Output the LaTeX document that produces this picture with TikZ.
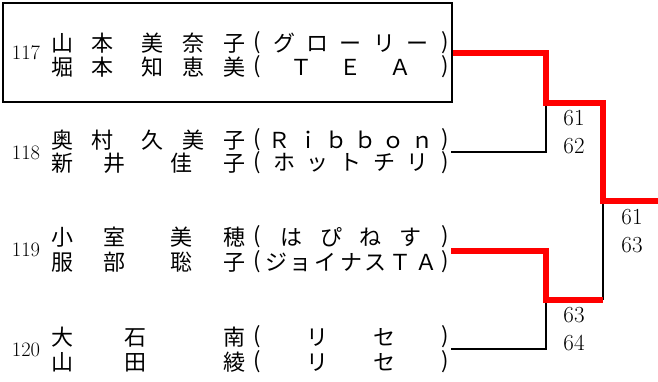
\documentclass[tikz,border=0pt]{standalone}
\usepackage{fontspec}
\usepackage{xcolor}
\usepackage{tikz}
\usetikzlibrary{calc,positioning}
\newfontfamily\jp{Noto Sans CJK JP}
\definecolor{winred}{HTML}{FF0000}
\tikzset{
  win/.style={line width=6pt,winred,line join=miter},
  lose/.style={line width=1.5pt,black},
  hibox/.style={draw,line width=2pt,minimum width=449pt,minimum height=99pt,inner sep=0pt},
  jtxt/.style={font=\jp\fontsize{22}{22}\selectfont,inner sep=0pt},
  num/.style={font=\fontsize{20.5}{20.5}\selectfont,inner sep=0pt},
  score/.style={font=\fontsize{23}{28}\selectfont,align=center,inner sep=0pt}
}
\newcommand{\jg}{\hfil}
\newcommand{\jG}{\hskip 0pt plus 1.5fil}
\newcommand{\namerow}[4]{%
  \node[jtxt,anchor=west] (#1-name) at (51,#2) {\hbox to 194pt{#3}};
  \node[jtxt] (#1-open) at (257,#2) {(};
  \node[jtxt] (#1-team) at (351,#2) {\hbox to 178pt{#4}};
  \node[jtxt] (#1-close) at (445,#2) {)};
}

\begin{document}
\begin{tikzpicture}[x=1pt,y=-1pt]
\useasboundingbox (0,0) rectangle (658,381);
% entries
\node[hibox] (box117) at (227.5,52.5) {};
\node[num] (n117) at (26,53) {117};
\node[num] (n118) at (26,153) {118};
\node[num] (n119) at (26,250) {119};
\node[num] (n120) at (26,350) {120};
\namerow{a1}{43}{山\jg 本\jG 美\jg 奈\jg 子}{\jg グ\jg ロ\jg ー\jg リ\jg ー\jg}
\namerow{a2}{67}{堀\jg 本\jG 知\jg 恵\jg 美}{\jg Ｔ\jg Ｅ\jg Ａ\jg}
\namerow{b1}{140}{奥\jg 村\jG 久\jg 美\jg 子}{\jg Ｒ\jg ｉ\jg ｂ\jg ｂ\jg ｏ\jg ｎ\jg}
\namerow{b2}{163}{新\jg 井\jG 佳\jg 子}{\jg ホ\jg ッ\jg ト\jg チ\jg リ\jg}
\namerow{c1}{237}{小\jg 室\jG 美\jg 穂}{\jg は\jg ぴ\jg ね\jg す\jg}
\namerow{c2}{262}{服\jg 部\jG 聡\jg 子}{\jg ジ\jg ョ\jg イ\jg ナ\jg ス\jg Ｔ\jg Ａ\jg}
\namerow{d1}{337}{大\jg 石\jG 南}{\jg リ\jg セ\jg}
\namerow{d2}{362}{山\jg 田\jG 綾}{\jg リ\jg セ\jg}
% bracket points
\coordinate (t118) at (451,152);
\coordinate (t119) at (451,251);
\coordinate (t120) at (451,349);
\coordinate (j1) at (546,103);
\coordinate (j2) at (546,300);
\coordinate (j3) at (603,201);
\coordinate (j4) at (603,300);
\coordinate (champ) at (658,201);
% bracket
\draw[lose] (t118) -| (j1);
\draw[lose] (t120) -| (j2);
\draw[lose] (j4) -- (j3);
\draw[win] (box117.east) -| (j1) -| (j3) -- (champ);
\draw[win] (t119) -| (j2) -- (j4);
% scores
\node[score] (s12) at (574,132) {61\\62};
\node[score] (s34) at (574,329) {63\\64};
\node[score] (sfin) at (632,231) {61\\63};
\end{tikzpicture}
\end{document}
